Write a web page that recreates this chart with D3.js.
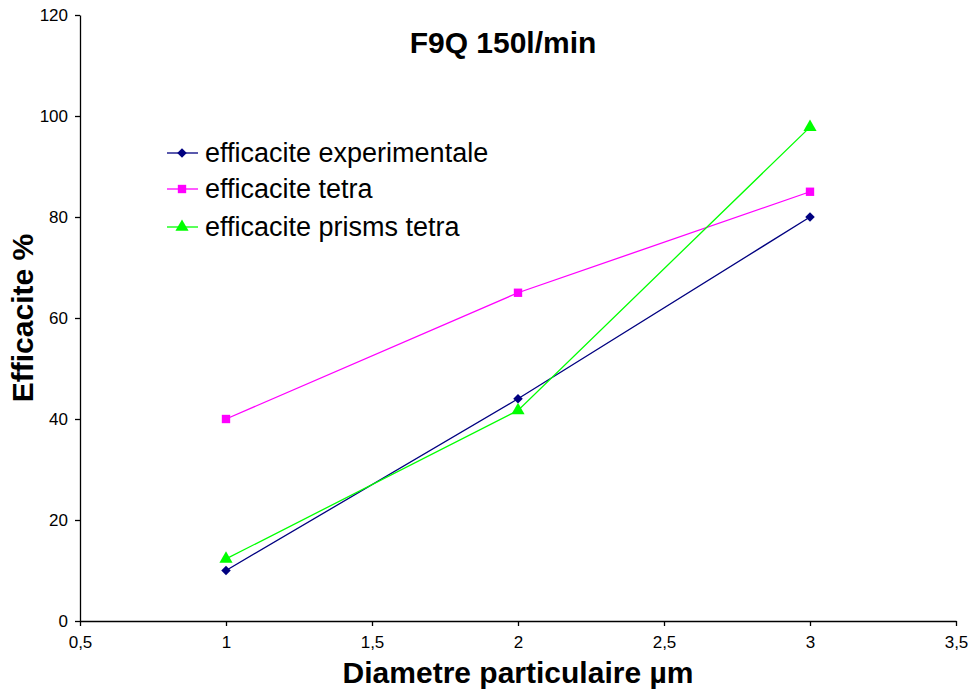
<!DOCTYPE html>
<html><head><meta charset="utf-8">
<script src="https://cdn.jsdelivr.net/npm/d3@7"></script>
<style>body{margin:0;background:#fff}svg{display:block;font-family:Arial,"Liberation Sans",sans-serif}</style>
</head><body><svg id="c" width="971" height="689"></svg>
<script>
const xValues = [1, 2, 3];
const experimentale = [10, 44, 80];
const tetra = [40, 65, 85];
const prismsTetra = [12.3, 41.7, 97.8];
const seriesNames = ["efficacite experimentale", "efficacite tetra", "efficacite prisms tetra"];
const seriesColors = ["#000080", "#FF00FF", "#00FF00"];
const seriesSymbols = ["diamond", "square", "triangle"];
const xTicks = [0.5, 1, 1.5, 2, 2.5, 3, 3.5];
const yTicks = [0, 20, 40, 60, 80, 100, 120];
const title = "F9Q 150l/min";
const xTitle = "Diametre particulaire µm";
const yTitle = "Efficacite %";

const svg = d3.select("#c");
const x = d3.scaleLinear().domain([0.5, 3.5]).range([80, 956]);
const y = d3.scaleLinear().domain([0, 120]).range([621, 15]);

const fmt = d => String(d).replace(".", ",");
const xa = svg.append("g").attr("transform", "translate(0,621)")
  .call(d3.axisBottom(x).tickValues(xTicks).tickFormat(fmt).tickSize(5).tickSizeOuter(0));
const ya = svg.append("g").attr("transform", "translate(80,0)")
  .call(d3.axisLeft(y).tickValues(yTicks).tickSize(5).tickSizeOuter(0));
[xa, ya].forEach(a => {
  a.selectAll("path,line").attr("stroke", "#000").attr("stroke-width", 1.3);
  a.selectAll("text").attr("font-size", 17).attr("fill", "#000").attr("font-family", "Arial,'Liberation Sans',sans-serif");
});
xa.selectAll("text").attr("dy", "1.1em");
ya.selectAll("text").attr("x", -12);

const data = [experimentale, tetra, prismsTetra];
const symType = {diamond: d3.symbolSquare, square: d3.symbolSquare, triangle: d3.symbolTriangle};
const symSize = {diamond: 45, square: 70, triangle: 75};
const symRot = {diamond: 45, square: 0, triangle: 0};
const line = d3.line().x((d, i) => x(xValues[i])).y(d => y(d));
data.forEach((vals, s) => {
  const sym = seriesSymbols[s];
  svg.append("path").datum(vals).attr("d", line).attr("fill", "none")
    .attr("stroke", seriesColors[s]).attr("stroke-width", 1.3);
  svg.selectAll(null).data(vals).enter().append("path")
    .attr("d", d3.symbol().type(symType[sym]).size(symSize[sym]))
    .attr("transform", (d, i) => `translate(${x(xValues[i])},${y(d)}) rotate(${symRot[sym]})`)
    .attr("fill", seriesColors[s]);
});

// legend
const legY = [153, 189, 227];
seriesNames.forEach((n, s) => {
  const sym = seriesSymbols[s];
  const g = svg.append("g").attr("transform", `translate(167,${legY[s]})`);
  g.append("line").attr("x1", 0).attr("x2", 31).attr("stroke", seriesColors[s]).attr("stroke-width", 1.3);
  g.append("path").attr("d", d3.symbol().type(symType[sym]).size(symSize[sym]))
    .attr("transform", `translate(15,0) rotate(${symRot[sym]})`).attr("fill", seriesColors[s]);
  g.append("text").attr("x", 38).attr("y", 0).attr("dy", "0.35em").attr("font-size", 27).text(n);
});

svg.append("text").attr("x", 503).attr("y", 53).attr("text-anchor", "middle")
  .attr("font-size", 30).attr("font-weight", "bold").text(title);
svg.append("text").attr("x", 518).attr("y", 683).attr("text-anchor", "middle")
  .attr("font-size", 30).attr("font-weight", "bold").text(xTitle);
svg.append("text").attr("transform", "translate(33,318) rotate(-90)").attr("text-anchor", "middle")
  .attr("font-size", 30).attr("font-weight", "bold").text(yTitle);
</script></body></html>
